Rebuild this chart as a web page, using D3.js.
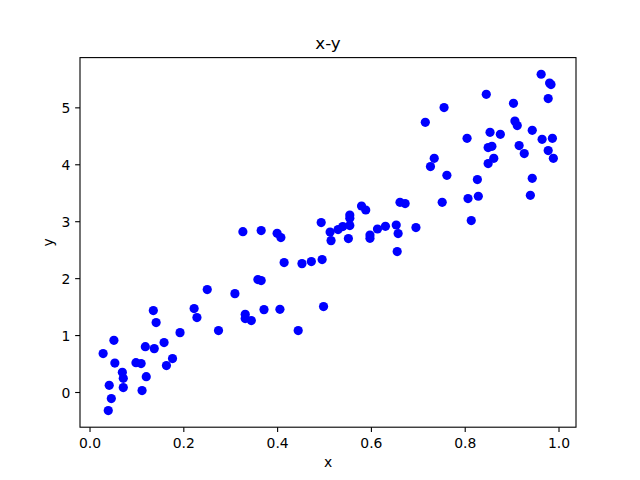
<!DOCTYPE html>
<html>
<head>
<meta charset="utf-8">
<script src="https://cdn.jsdelivr.net/npm/d3@7"></script>
<style>
  html, body { margin: 0; padding: 0; background: #fff; }
  svg { display: block; font-family: "DejaVu Sans", sans-serif; }
</style>
</head>
<body>
<svg id="chart" width="640" height="480"></svg>
<script>
const title = "x-y";
const xLabel = "x";
const yLabel = "y";
const xTicks = [0.0, 0.2, 0.4, 0.6, 0.8, 1.0];
const yTicks = [0, 1, 2, 3, 4, 5];

const xValues = [
  0.040, 0.0465, 0.042, 0.029, 0.052, 0.054, 0.070, 0.072, 0.072, 0.112,
  0.121, 0.099, 0.110, 0.119, 0.138, 0.136, 0.142, 0.159, 0.177, 0.164,
  0.193, 0.223, 0.229, 0.251, 0.275, 0.310, 0.327, 0.366, 0.332, 0.332,
  0.345, 0.359, 0.366, 0.372, 0.400, 0.408, 0.406, 0.415, 0.445, 0.453,
  0.473, 0.496, 0.499,
  0.494, 0.513, 0.515, 0.530, 0.540, 0.552, 0.555, 0.555, 0.555, 0.580,
  0.589, 0.598, 0.598, 0.614, 0.631, 0.654, 0.658, 0.656, 0.662, 0.673,
  0.696, 0.716, 0.756, 0.735, 0.727, 0.762, 0.752, 0.805, 0.807, 0.829,
  0.827, 0.814, 0.846, 0.854, 0.850, 0.858, 0.876, 0.862, 0.850, 0.904,
  0.907, 0.912, 0.916, 0.927, 0.944, 0.944, 0.940, 0.963, 0.981, 0.984,
  0.978, 0.965, 0.987, 0.978, 0.989
];
const yValues = [
  -0.327, -0.116, 0.118, 0.675, 0.908, 0.509, 0.346, 0.241, 0.077, 0.025,
  0.270, 0.516, 0.499, 0.797, 0.762, 1.430, 1.219, 0.868, 0.587, 0.464,
  1.043, 1.465, 1.307, 1.799, 1.079, 1.728, 2.817, 2.835, 1.365, 1.289,
  1.254, 1.974, 1.957, 1.447, 2.788, 2.712, 1.453, 2.273, 1.079, 2.255,
  2.291, 2.326, 1.500,
  2.976, 2.810, 2.659, 2.853, 2.905, 2.695, 3.109, 3.051, 2.923, 3.267,
  3.197, 2.758, 2.700, 2.863, 2.911, 2.933, 2.782, 2.466, 3.332, 3.309,
  2.888, 4.737, 4.996, 4.105, 3.959, 3.806, 3.332, 4.456, 3.397, 3.438,
  3.731, 3.011, 5.229, 4.562, 4.293, 4.316, 4.527, 4.105, 4.012, 5.071,
  4.760, 4.679, 4.328, 4.188, 4.597, 3.754, 3.455, 5.581, 5.428, 5.400,
  5.154, 4.439, 4.456, 4.240, 4.105
];

const svg = d3.select("#chart");
const mLeft = 80, mRight = 576, mTop = 57.6, mBottom = 427.2;

const x = d3.scaleLinear().domain([-0.0203, 1.0373]).range([mLeft, mRight]);
const y = d3.scaleLinear().domain([-0.6182, 5.8738]).range([mBottom, mTop]);

const tickLen = 4.86;

// points
svg.append("g")
  .selectAll("circle")
  .data(xValues.map((v, i) => [v, yValues[i]]))
  .join("circle")
  .attr("cx", d => x(d[0]))
  .attr("cy", d => y(d[1]))
  .attr("r", 4.6)
  .attr("fill", "#0000ff");

// x axis
const gx = svg.append("g")
  .attr("transform", `translate(0,${mBottom})`)
  .call(d3.axisBottom(x).tickValues(xTicks).tickFormat(d3.format(".1f"))
    .tickSize(tickLen).tickSizeOuter(0).tickPadding(5.7));
gx.select(".domain").remove();
gx.selectAll(".tick line").attr("stroke", "#000").attr("stroke-width", 1.1);
gx.selectAll(".tick text").attr("fill", "#000").attr("font-size", 13.9)
  .attr("font-family", "DejaVu Sans, sans-serif");

// y axis
const gy = svg.append("g")
  .attr("transform", `translate(${mLeft},0)`)
  .call(d3.axisLeft(y).tickValues(yTicks).tickFormat(d3.format("d"))
    .tickSize(tickLen).tickSizeOuter(0).tickPadding(4.8));
gy.select(".domain").remove();
gy.selectAll(".tick line").attr("stroke", "#000").attr("stroke-width", 1.1);
gy.selectAll(".tick text").attr("fill", "#000").attr("font-size", 13.9)
  .attr("dy", "0.36em")
  .attr("font-family", "DejaVu Sans, sans-serif");

// frame
svg.append("rect")
  .attr("x", mLeft).attr("y", mTop)
  .attr("width", mRight - mLeft).attr("height", mBottom - mTop)
  .attr("fill", "none").attr("stroke", "#000").attr("stroke-width", 1.1);

// title
svg.append("text")
  .attr("x", (mLeft + mRight) / 2).attr("y", 49.3)
  .attr("text-anchor", "middle")
  .attr("font-size", 16.7)
  .attr("fill", "#000")
  .text(title);

// axis labels
svg.append("text")
  .attr("x", (mLeft + mRight) / 2).attr("y", 467)
  .attr("text-anchor", "middle")
  .attr("font-size", 13.9)
  .attr("fill", "#000")
  .text(xLabel);

svg.append("text")
  .attr("transform", `translate(52.6,${(mTop + mBottom) / 2}) rotate(-90)`)
  .attr("text-anchor", "middle")
  .attr("font-size", 13.9)
  .attr("fill", "#000")
  .text(yLabel);
</script>
</body>
</html>
